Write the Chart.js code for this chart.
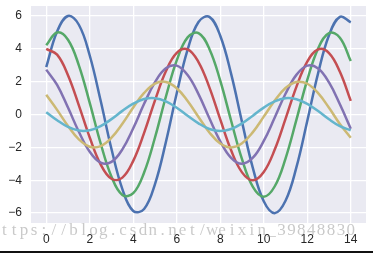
<!DOCTYPE html>
<html>
<head>
<meta charset="utf-8">
<script src="https://cdn.jsdelivr.net/npm/chart.js@4/dist/chart.umd.min.js"></script>
<style>
  html, body { margin: 0; padding: 0; background: #fff; }
  #wrap { width: 373px; height: 251px; }
  #bar { width: 373px; height: 2px; background: #111; }
</style>
</head>
<body>
<div id="wrap"><canvas id="sinChart" width="373" height="251"></canvas></div>
<div id="bar"></div>
<script>
// x positions (0 .. 14, step 0.5)
const xs = [0, 0.5, 1, 1.5, 2, 2.5, 3, 3.5, 4, 4.5, 5, 5.5, 6, 6.5, 7,
  7.5, 8, 8.5, 9, 9.5, 10, 10.5, 11, 11.5, 12, 12.5, 13, 13.5, 14];

const blue = [2.88, 5.05, 5.99, 5.46, 3.59, 0.85, -2.10, -4.54, -5.87, -5.75, -4.23, -1.68, 1.29, 3.94, 5.63,
  5.94, 4.79, 2.47, -0.45, -3.26, -5.28, -6.00, -5.25, -3.22, -0.40, 2.52, 4.82, 5.94, 5.61];
const green = [4.21, 4.99, 4.55, 2.99, 0.71, -1.75, -3.78, -4.89, -4.79, -3.53, -1.40, 1.08, 3.29, 4.69, 4.95,
  3.99, 2.06, -0.38, -2.72, -4.40, -5.00, -4.38, -2.68, -0.33, 2.10, 4.02, 4.95, 4.67, 3.25];
const red = [3.99, 3.64, 2.39, 0.56, -1.40, -3.03, -3.91, -3.84, -2.82, -1.12, 0.86, 2.63, 3.75, 3.96, 3.19,
  1.65, -0.30, -2.18, -3.52, -4.00, -3.50, -2.15, -0.27, 1.68, 3.22, 3.96, 3.74, 2.60, 0.83];
const purple = [2.73, 1.80, 0.42, -1.05, -2.27, -2.93, -2.88, -2.12, -0.84, 0.65, 1.97, 2.81, 2.97, 2.40, 1.24,
  -0.23, -1.63, -2.64, -3.00, -2.63, -1.61, -0.20, 1.26, 2.41, 2.97, 2.80, 1.95, 0.62, -0.86];
const yellow = [1.20, 0.28, -0.70, -1.51, -1.96, -1.92, -1.41, -0.56, 0.43, 1.31, 1.88, 1.98, 1.60, 0.82, -0.15,
  -1.09, -1.76, -2.00, -1.75, -1.07, -0.13, 0.84, 1.61, 1.98, 1.87, 1.30, 0.41, -0.58, -1.42];
const cyan = [0.14, -0.35, -0.76, -0.98, -0.96, -0.71, -0.28, 0.22, 0.66, 0.94, 0.99, 0.80, 0.41, -0.08, -0.54,
  -0.88, -1.00, -0.88, -0.54, -0.07, 0.42, 0.80, 0.99, 0.93, 0.65, 0.21, -0.29, -0.71, -0.96];

const xTicks = [0, 2, 4, 6, 8, 10, 12, 14];
const yTicks = [-6, -4, -2, 0, 2, 4, 6];
const watermark = 'https://blog.csdn.net/weixin_39848830';

const series = [
  { values: blue, color: '#4C72B0' },
  { values: green, color: '#55A868' },
  { values: red, color: '#C44E52' },
  { values: purple, color: '#8172B2' },
  { values: yellow, color: '#CCB974' },
  { values: cyan, color: '#64B5CD' }
];

const datasets = series.map(function (s, i) {
  return {
    data: xs.map(function (x, k) { return { x: x, y: s.values[k] }; }),
    borderColor: s.color,
    borderWidth: 2.5,
    pointRadius: 0,
    tension: 0.4,
    fill: false,
    order: series.length - i // later series on top, like matplotlib
  };
});

// grey plot background
const plotBg = {
  id: 'plotBg',
  beforeDraw(chart) {
    const a = chart.chartArea, ctx = chart.ctx;
    ctx.save();
    ctx.fillStyle = '#EAEAF2';
    ctx.fillRect(a.left, a.top, a.right - a.left, a.bottom - a.top);
    ctx.restore();
  }
};

// faint blog watermark over the bottom
const stamp = {
  id: 'stamp',
  afterDraw(chart) {
    const ctx = chart.ctx;
    ctx.save();
    ctx.font = '17px "Liberation Serif"';
    ctx.fillStyle = 'rgba(120,120,120,0.4)';
    ctx.textAlign = 'center';
    ctx.textBaseline = 'alphabetic';
    for (let i = 0; i < watermark.length; i++) {
      ctx.fillText(watermark[i], -5.6 + i * 9.9, 235);
    }
    ctx.restore();
  }
};

const tickFont = { family: '"Liberation Sans", Arial, sans-serif', size: 12 };

new Chart(document.getElementById('sinChart'), {
  type: 'line',
  data: { datasets: datasets },
  plugins: [plotBg, stamp],
  options: {
    responsive: false,
    animation: false,
    layout: { padding: { top: 6, right: 7, left: 0, bottom: 0 } },
    scales: {
      x: {
        type: 'linear',
        min: -0.7,
        max: 14.7,
        afterBuildTicks(scale) { scale.ticks = xTicks.map(v => ({ value: v })); },
        afterFit(scale) {
          scale.height = 28;
          scale.paddingLeft = 0;
          scale.paddingRight = 0;
        },
        grid: { color: '#ffffff', lineWidth: 1.3, drawTicks: false },
        border: { display: false },
        ticks: { color: '#262626', font: tickFont, padding: 9, maxRotation: 0 }
      },
      y: {
        min: -6.6,
        max: 6.6,
        afterBuildTicks(scale) { scale.ticks = yTicks.map(v => ({ value: v })); },
        afterFit(scale) {
          scale.width = 31;
          scale.paddingTop = 0;
          scale.paddingBottom = 0;
        },
        grid: { color: '#ffffff', lineWidth: 1.3, drawTicks: false },
        border: { display: false },
        ticks: {
          color: '#262626', font: tickFont, padding: 9,
          callback: v => (v < 0 ? '\u2212' + Math.abs(v) : String(v))
        }
      }
    },
    plugins: {
      legend: { display: false },
      tooltip: { enabled: false }
    }
  }
});
</script>
</body>
</html>
